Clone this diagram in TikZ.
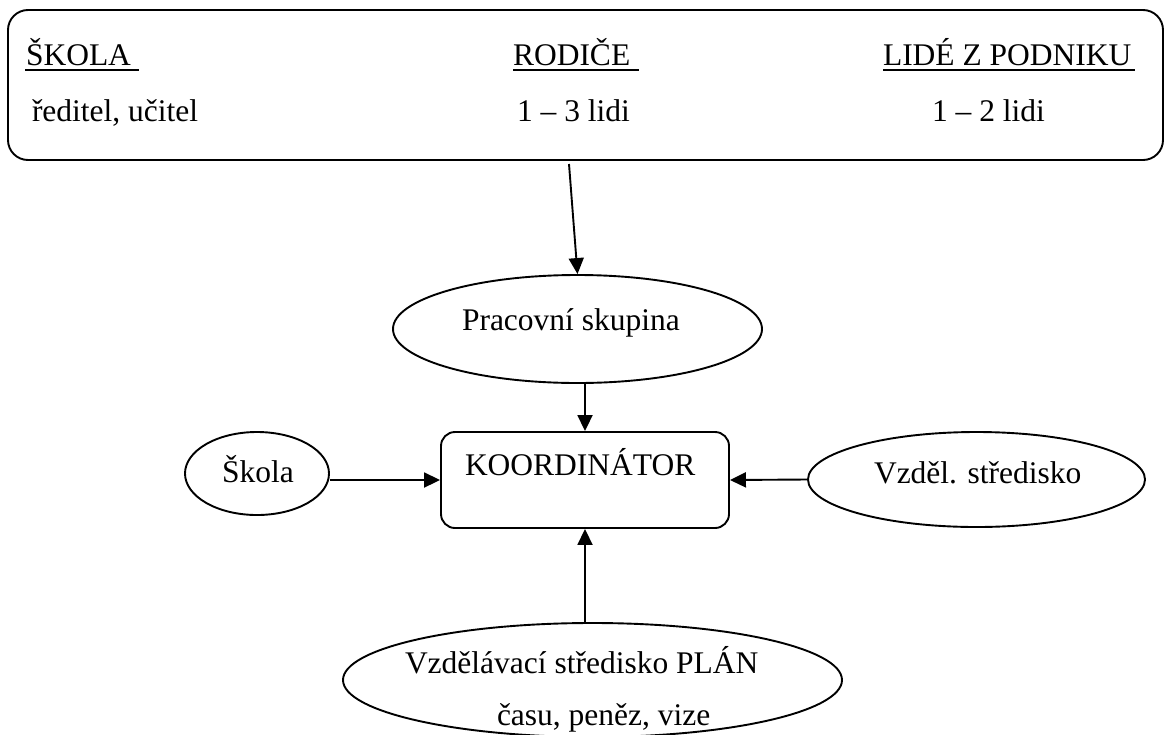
\documentclass[tikz,border=0pt]{standalone}
\usepackage{fontspec}
\setmainfont{Liberation Serif}
\usetikzlibrary{arrows.meta,shapes.geometric}
\begin{document}
\begin{tikzpicture}[x=1pt,y=-1pt,
  line width=1.9pt,
  txt/.style={inner sep=0pt,outer sep=0pt,anchor=base west,font=\fontsize{31.5}{38}\selectfont},
  oval/.style={draw,ellipse,inner sep=0pt},
  rbox/.style={draw,rectangle,inner sep=0pt},
  arr/.style={-{Triangle[length=16pt,width=15pt]}},
  uline/.style={line width=2.2pt}]
\useasboundingbox (0,0) rectangle (1164,734);
% shapes
\node[rbox,rounded corners=20pt,minimum width=1155pt,minimum height=150pt] (top) at (585.5,85) {};
\node[oval,minimum width=369pt,minimum height=108pt] (prac) at (577.5,329) {};
\node[rbox,rounded corners=14pt,minimum width=288pt,minimum height=96pt] (koord) at (585,480) {};
\node[oval,minimum width=144pt,minimum height=83pt] (skola) at (257,473.5) {};
\node[oval,minimum width=337pt,minimum height=95pt] (vzd) at (976.5,479.5) {};
\node[oval,minimum width=499pt,minimum height=114pt] (bot) at (592.5,680) {};
% texts
\node[txt] (t1) at (26,65) {ŠKOLA};
\node[txt] (t2) at (32,121) {ředitel, učitel};
\node[txt] (t3) at (513,65) {RODIČE};
\node[txt] (t4) at (517,121) {1 – 3 lidi};
\node[txt] (t5) at (883,65) {LIDÉ Z PODNIKU};
\node[txt] (t6) at (932,121) {1 – 2 lidi};
\node[txt] (t7) at (462,330) {Pracovní skupina};
\node[txt] (t8) at (465,475) {KOORDINÁTOR};
\node[txt] (t9) at (222,482) {Škola};
\node[txt] (t10) at (874,483) {Vzděl. středisko};
\node[txt] (t11) at (405,673) {Vzdělávací středisko PLÁN};
\node[txt] (t12) at (497,725) {času, peněz, vize};
% underlines
\coordinate (u1a) at (25,70); \coordinate (u1b) at (139,70);
\coordinate (u2a) at (513,70); \coordinate (u2b) at (639,70);
\coordinate (u3a) at (883,70); \coordinate (u3b) at (1135,70);
\draw[uline] (u1a) -- (u1b);
\draw[uline] (u2a) -- (u2b);
\draw[uline] (u3a) -- (u3b);
% connectors
\coordinate (tstart) at (569,164);
\draw[arr] (tstart) -- (prac.north);
\draw[arr] (prac.south -| koord.north) -- (koord.north);
\draw[arr] (skola.east |- koord.west) -- (koord.west);
\draw[arr] (vzd.west) -- (koord.east);
\draw[arr] (bot.north -| koord.south) -- (koord.south);
\end{tikzpicture}
\end{document}
